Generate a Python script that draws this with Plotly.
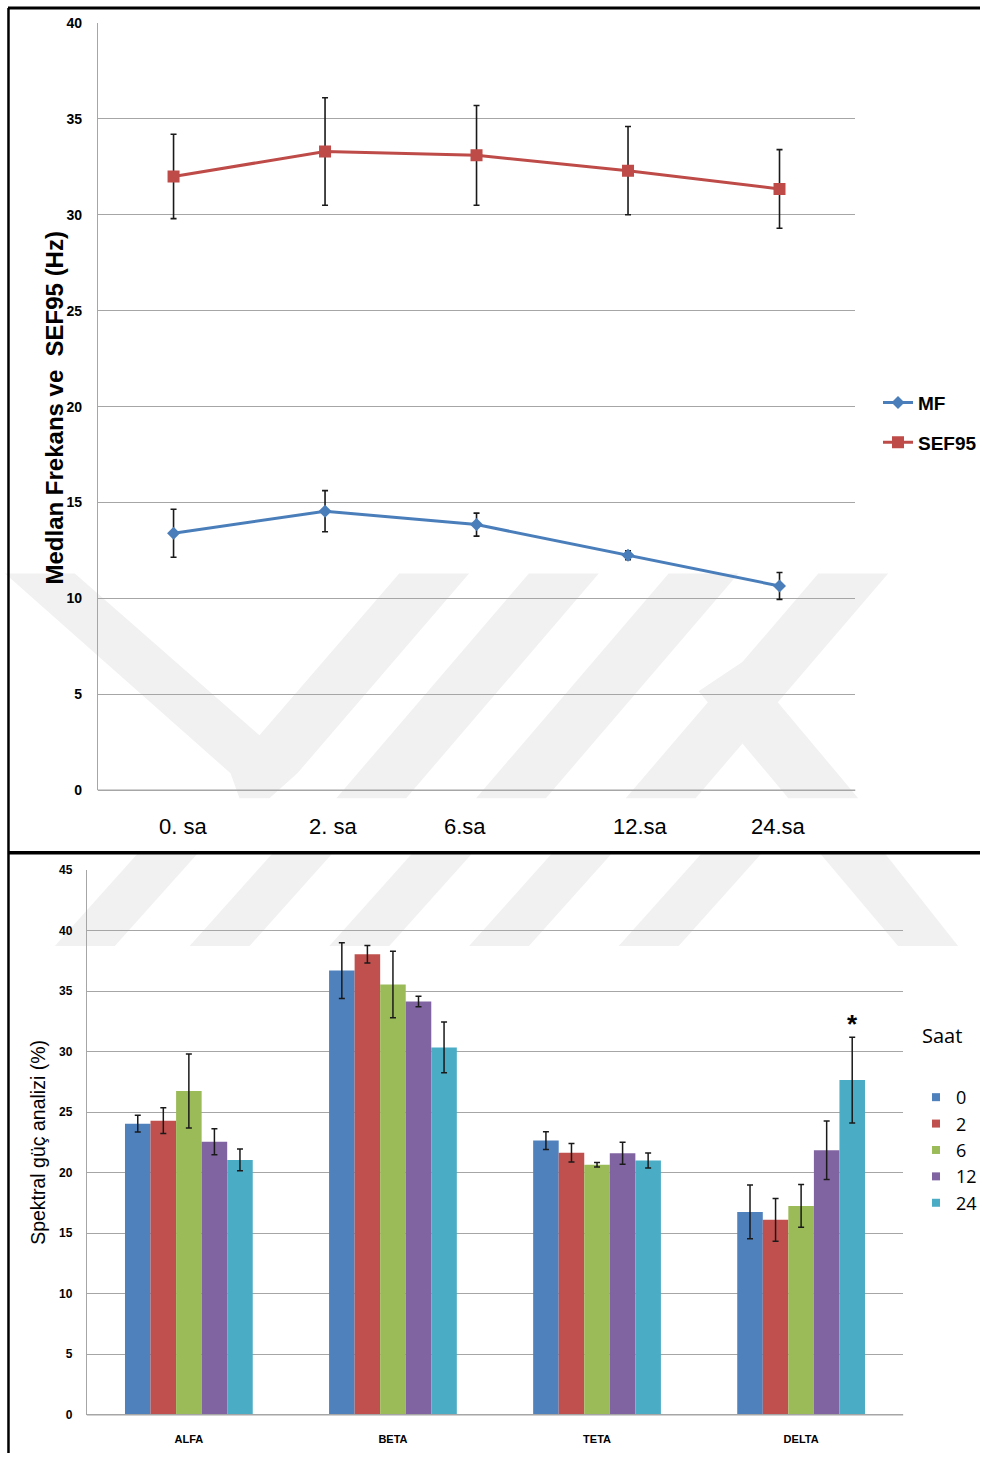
import plotly.graph_objects as go

W, H = 982, 1461

# ---- top chart: median frequency and SEF95 over time ----
time_labels = ["0. sa", "2. sa", "6.sa", "12.sa", "24.sa"]
mf_mean = [13.4, 14.55, 13.85, 12.25, 10.65]
mf_err = [1.25, 1.07, 0.6, 0.23, 0.7]
sef_mean = [32.0, 33.3, 33.1, 32.3, 31.35]
sef_err = [2.2, 2.8, 2.6, 2.3, 2.05]
top_yticks = [0, 5, 10, 15, 20, 25, 30, 35, 40]

# ---- bottom chart: spectral power analysis by band and hour ----
bands = ["ALFA", "BETA", "TETA", "DELTA"]
hours = ["0", "2", "6", "12", "24"]
power_0 = [24.05, 36.7, 22.65, 16.75]
power_2 = [24.3, 38.05, 21.65, 16.1]
power_6 = [26.75, 35.55, 20.65, 17.25]
power_12 = [22.55, 34.15, 21.6, 21.85]
power_24 = [21.05, 30.35, 21.0, 27.65]
err_0 = [0.7, 2.3, 0.74, 2.22]
err_2 = [1.07, 0.72, 0.77, 1.76]
err_6 = [3.05, 2.74, 0.18, 1.77]
err_12 = [1.07, 0.43, 0.91, 2.41]
err_24 = [0.9, 2.1, 0.62, 3.54]
bottom_yticks = [0, 5, 10, 15, 20, 25, 30, 35, 40, 45]

bar_colors = ["#4F81BD", "#C0504D", "#9BBB59", "#8064A2", "#4BACC6"]
powers = [power_0, power_2, power_6, power_12, power_24]
errs = [err_0, err_2, err_6, err_12, err_24]

# page-to-paper mapping (vertical positions carry a small scale/offset)
Y_OFF, Y_SCALE = 6.0, 0.99


def px(x):
    return x / W


def py(y):
    return 1 - ((y - Y_OFF) / Y_SCALE) / H


fig = go.Figure()

fig.add_trace(go.Scatter(
    x=time_labels, y=mf_mean, name="MF", mode="lines+markers",
    line=dict(color="#4A7EBB", width=3),
    marker=dict(symbol="diamond", size=10, color="#4A7EBB"),
    error_y=dict(type="data", array=mf_err, color="#1a1a1a", thickness=1.6, width=3),
    xaxis="x", yaxis="y", legend="legend", legendgroup="mf",
))
fig.add_trace(go.Scatter(
    x=time_labels, y=sef_mean, name="SEF95", mode="lines+markers",
    line=dict(color="#BE4B48", width=3),
    marker=dict(symbol="square", size=12, color="#BE4B48"),
    error_y=dict(type="data", array=sef_err, color="#1a1a1a", thickness=1.6, width=3),
    xaxis="x", yaxis="y", legend="legend", legendgroup="sef",
))

for name, vals, ev, col in zip(hours, powers, errs, bar_colors):
    fig.add_trace(go.Bar(
        x=bands, y=vals, name=name, marker=dict(color=col, line=dict(width=0)),
        error_y=dict(type="data", array=ev, color="#1a1a1a", thickness=1.5, width=3),
        xaxis="x2", yaxis="y2", showlegend=False, legendgroup="h" + name,
    ))
    # small square key for the hour legend
    fig.add_trace(go.Scatter(
        x=[None], y=[None], name=name, mode="markers",
        marker=dict(symbol="square", size=8, color=col),
        xaxis="x2", yaxis="y2", legend="legend2", legendgroup="h" + name,
    ))

grid = "#a6a6a6"

fig.update_layout(
    width=W, height=H,
    margin=dict(l=0, r=0, t=0, b=0),
    paper_bgcolor="white", plot_bgcolor="rgba(0,0,0,0)",
    showlegend=True,
    barmode="group", bargap=0.374, bargroupgap=0,
    xaxis=dict(
        domain=[px(98), px(857)], anchor="y", type="category",
        range=[-0.5, 4.5], showticklabels=False, ticks="",
        showline=False, showgrid=False, zeroline=False,
    ),
    yaxis=dict(
        domain=[py(789), py(21)], anchor="x", range=[0, 40],
        tickvals=top_yticks, ticks="", ticklabelstandoff=12,
        tickfont=dict(family="Arial, Liberation Sans", size=14, color="#000000", weight="bold"),
        showgrid=True, gridcolor=grid, gridwidth=1,
        showline=True, linecolor=grid, linewidth=1, zeroline=False,
    ),
    xaxis2=dict(
        domain=[px(87), px(905)], anchor="y2", type="category",
        range=[-0.5, 3.5], ticks="", ticklabelstandoff=16,
        tickfont=dict(family="Liberation Sans Narrow, Arial", size=11, color="#000000", weight="bold"),
        showgrid=False, showline=False, zeroline=False,
    ),
    yaxis2=dict(
        domain=[py(1414), py(869)], anchor="x2", range=[0, 45],
        tickvals=bottom_yticks, ticks="", ticklabelstandoff=11,
        tickfont=dict(family="Arial, Liberation Sans", size=12, color="#000000", weight="bold"),
        showgrid=True, gridcolor=grid, gridwidth=1,
        showline=True, linecolor=grid, linewidth=1, zeroline=False,
    ),
    legend=dict(
        x=px(880), y=py(382), xanchor="left", yanchor="top",
        font=dict(family="Arial, Liberation Sans", size=19, color="#000000", weight="bold"),
        bgcolor="rgba(0,0,0,0)", itemwidth=30, tracegroupgap=12,
    ),
    legend2=dict(
        x=px(918), y=py(1078), xanchor="left", yanchor="top",
        font=dict(family="Open Sans, Arial", size=18, color="#000000"),
        bgcolor="rgba(0,0,0,0)", itemwidth=30, tracegroupgap=0,
    ),
)

# axis baselines
fig.add_shape(type="line", xref="paper", yref="paper",
              x0=px(87), x1=px(905), y0=py(1414), y1=py(1414),
              line=dict(color=grid, width=1.5), layer="above")
fig.add_shape(type="line", xref="paper", yref="paper",
              x0=px(98), x1=px(857), y0=py(789), y1=py(789),
              line=dict(color=grid, width=1.5), layer="above")

# time labels under the top chart
label_shift = [9, 8, -12, 12, -1]
for lab, dx in zip(time_labels, label_shift):
    fig.add_annotation(
        x=lab, y=py(825), xref="x", yref="paper", xshift=dx,
        xanchor="center", yanchor="middle",
        text=lab, showarrow=False,
        font=dict(family="Liberation Sans Narrow, Arial", size=22, color="#000000"),
    )

# axis titles
fig.add_annotation(
    x=px(55), y=py(406), xref="paper", yref="paper", textangle=-90,
    xanchor="center", yanchor="middle",
    text="Medlan Frekans ve  SEF95 (Hz)", showarrow=False,
    font=dict(family="Arial, Liberation Sans", size=24, color="#000000", weight="bold"),
)
fig.add_annotation(
    x=px(38), y=py(1141), xref="paper", yref="paper", textangle=-90,
    xanchor="center", yanchor="middle",
    text="Spektral güç analizi (%)", showarrow=False,
    font=dict(family="Arial, Liberation Sans", size=19.5, color="#000000"),
)
fig.add_annotation(
    x=px(944), y=py(1034), xref="paper", yref="paper",
    xanchor="center", yanchor="middle",
    text="Saat", showarrow=False,
    font=dict(family="Open Sans, Arial", size=20, color="#000000"),
)

# significance mark over the 24 h delta bar
fig.add_annotation(
    x="DELTA", y=power_24[3] + err_24[3], xref="x2", yref="y2",
    xshift=51, yshift=-4, xanchor="center", yanchor="bottom",
    text="*", showarrow=False,
    font=dict(family="Arial", size=26, color="#000000", weight="bold"),
)

# frame lines
fig.add_shape(type="line", xref="paper", yref="paper", x0=px(8.5), x1=px(8.5), y0=0, y1=1,
              line=dict(color="#000000", width=2.5), layer="above")
fig.add_shape(type="line", xref="paper", yref="paper", x0=px(8), x1=1, y0=1, y1=1,
              line=dict(color="#000000", width=3), layer="above")
fig.add_shape(type="line", xref="paper", yref="paper", x0=px(8), x1=1, y0=py(851.5), y1=py(851.5),
              line=dict(color="#000000", width=3.5), layer="above")

# faint background emblem
emblem = "#f1f1f1"


def poly(points):
    path = "M " + " L ".join(f"{px(x):.5f},{py(y):.5f}" for x, y in points) + " Z"
    fig.add_shape(type="path", xref="paper", yref="paper", path=path,
                  fillcolor=emblem, line=dict(width=0), layer="below")


poly([(5, 572), (75, 572), (260, 734), (400, 572), (470, 572), (298, 772), (270, 797), (240, 797), (231, 772)])
for b0 in (337, 477, 627):
    poly([(b0, 797), (b0 + 70, 797), (b0 + 263, 572), (b0 + 193, 572)])
poly([(700, 690), (745, 660), (860, 797), (790, 797)])
for b0 in (55, 190, 330, 470, 620):
    poly([(b0, 945), (b0 + 60, 945), (b0 + 145, 850), (b0 + 85, 850)])
poly([(820, 850), (885, 850), (960, 945), (900, 945)])

fig.write_html("out.html", post_script="document.body.style.margin='0';")
